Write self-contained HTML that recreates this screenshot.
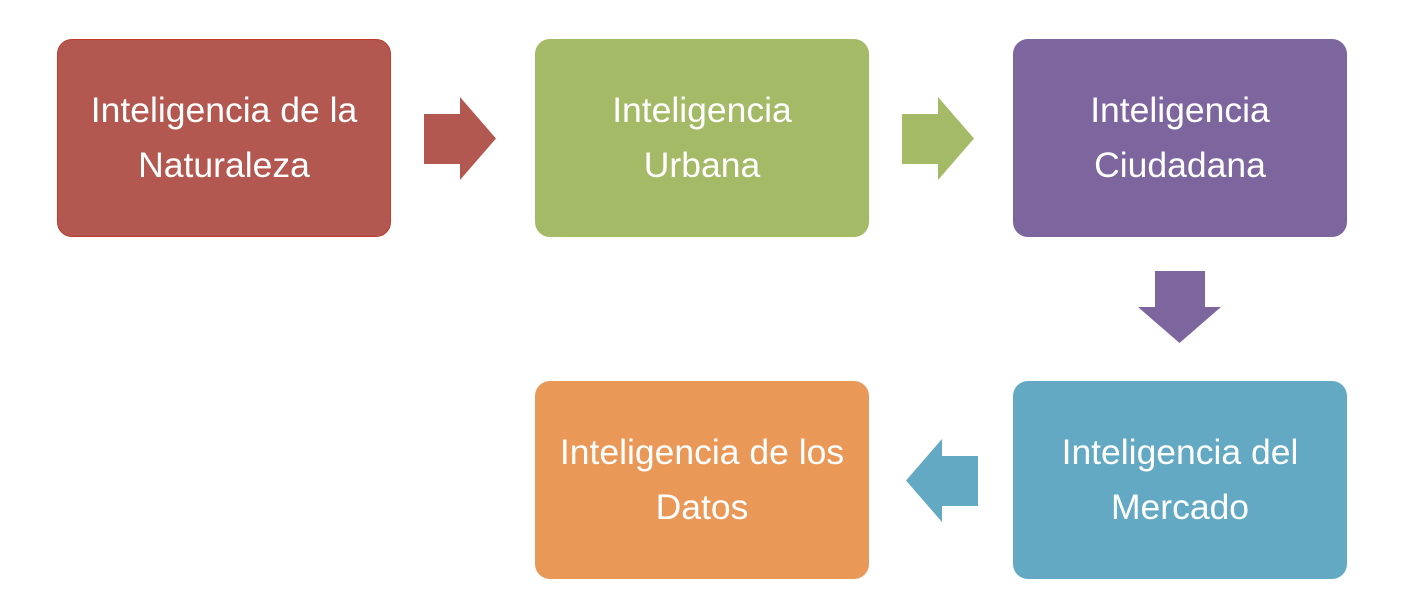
<!DOCTYPE html>
<html><head><meta charset="utf-8"><style>
body{margin:0;background:#fff;width:1424px;height:608px;position:relative;overflow:hidden;font-family:"Liberation Sans",Arial,sans-serif}
.b{position:absolute;width:334px;height:198px;border-radius:15px;color:#fff;font-size:35.5px;line-height:55px;display:flex;align-items:center;justify-content:center;text-align:center}
svg{position:absolute;left:0;top:0}
</style></head><body>
<div class="b" style="left:57px;top:39px;background:#B35850;border:1px solid #c0392b;box-sizing:border-box">Inteligencia de la<br>Naturaleza</div>
<div class="b" style="left:535px;top:39px;background:#A4BA67">Inteligencia<br>Urbana</div>
<div class="b" style="left:1013px;top:39px;background:#7D669E">Inteligencia<br>Ciudadana</div>
<div class="b" style="left:1013px;top:381px;background:#63A9C3">Inteligencia del<br>Mercado</div>
<div class="b" style="left:535px;top:381px;background:#EA9857">Inteligencia de los<br>Datos</div>
<svg width="1424" height="608">
<polygon fill="#B35850" points="424,114 460,114 460,97 496,138.5 460,180 460,164 424,164"/>
<polygon fill="#A4BA67" points="902,114 938,114 938,97 974,138.5 938,180 938,164 902,164"/>
<polygon fill="#7D669E" points="1155,271 1205,271 1205,307 1221,307 1179.5,343 1138,307 1155,307"/>
<polygon fill="#63A9C3" points="978,456 942,456 942,439 906,480.5 942,522 942,506 978,506"/>
</svg>
</body></html>
